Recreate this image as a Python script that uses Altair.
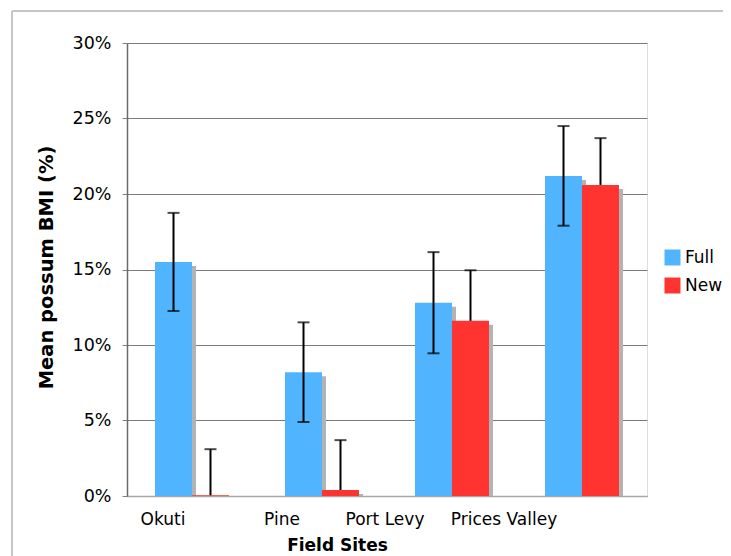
import altair as alt
import pandas as pd

sites = ["Okuti", "Pine", "Port Levy", "Prices Valley"]
series = ["Full", "New"]
full_vals = [15.5, 8.2, 12.8, 21.2]
full_err = [3.25, 3.3, 3.35, 3.3]
new_vals = [0.05, 0.4, 11.6, 20.6]
new_err = [3.05, 3.3, 3.35, 3.1]
colors = ["#50b4fe", "#ff3430"]

rows = []
for i, s in enumerate(sites):
    rows.append({"site": s, "series": "Full", "value": full_vals[i] / 100,
                 "lo": (full_vals[i] - full_err[i]) / 100,
                 "hi": (full_vals[i] + full_err[i]) / 100, "lower": True})
    rows.append({"site": s, "series": "New", "value": new_vals[i] / 100,
                 "lo": new_vals[i] / 100,
                 "hi": (new_vals[i] + new_err[i]) / 100, "lower": False})
df = pd.DataFrame(rows)

FONT = "DejaVu Sans"

label_off = ("datum.value == 'Okuti' ? -29 : datum.value == 'Pine' ? -40 : "
             "datum.value == 'Port Levy' ? -67 : -78")

x_enc = alt.X("site:N", sort=sites,
              scale=alt.Scale(paddingInner=0.431, paddingOuter=0.2155),
              axis=alt.Axis(title="Field Sites", labelAngle=0, ticks=False,
                            labelFont=FONT, labelFontSize=17, labelColor="#000",
                            labelPadding=15, labelBaseline="top",
                            labelOffset=alt.ExprRef(expr=label_off),
                            domainColor="#a8a8a8", domainWidth=1.5,
                            titleFont=FONT, titleFontSize=17, titleFontWeight="bold",
                            titleColor="#000", titleX=210, titleY=49,
                            titleBaseline="middle", titleAlign="center"))
xo = alt.XOffset("series:N", sort=series,
                 scale=alt.Scale(domain=series, paddingInner=0, paddingOuter=0))
xo_shadow = alt.XOffset("series:N", sort=series,
                        scale=alt.Scale(domain=series, paddingInner=0, paddingOuter=0,
                                        range=[4, 78]))
y_scale = alt.Scale(domain=[0, 0.30], nice=False)
y_axis = alt.Axis(title="Mean possum BMI (%)", format=".0%", values=[0, 0.05, 0.1, 0.15, 0.2, 0.25, 0.3],
                  labelFont=FONT, labelFontSize=17.5, labelColor="#000", labelPadding=11,
                  tickSize=5, tickColor="#808080", domainColor="#6a6a6a", domainWidth=1.5,
                  grid=True, gridColor="#7a7a7a", gridWidth=1.2,
                  titleFont=FONT, titleFontSize=19.5, titleFontWeight="bold", titleColor="#000",
                  titleAngle=-90, titleX=-81, titleY=224, titleAlign="center",
                  titleBaseline="middle")

base = alt.Chart(df)

shadow = base.mark_bar(color="#b3b3b3", yOffset=4, clip=True).encode(
    x=x_enc, xOffset=xo_shadow, y=alt.Y("value:Q", scale=y_scale, axis=y_axis))

bars = base.mark_bar().encode(
    x=alt.X("site:N", sort=sites), xOffset=xo,
    y=alt.Y("value:Q", scale=y_scale),
    color=alt.Color("series:N", sort=series,
                    scale=alt.Scale(domain=series, range=colors),
                    legend=alt.Legend(title=None, orient="none", legendX=537, legendY=206,
                                      symbolType="square", symbolSize=256, symbolStrokeWidth=0,
                                      labelFont=FONT, labelFontSize=17, labelColor="#000",
                                      rowPadding=10, labelOffset=4)))

err_line = base.mark_rule(color="#000", strokeWidth=2, clip=True).encode(
    x=alt.X("site:N", sort=sites), xOffset=xo,
    y=alt.Y("lo:Q", scale=y_scale), y2="hi:Q")

cap_top = base.mark_tick(color="#000", size=12, thickness=2).encode(
    x=alt.X("site:N", sort=sites), xOffset=xo, y=alt.Y("hi:Q", scale=y_scale))

cap_bot = base.transform_filter("datum.lower").mark_tick(color="#000", size=12, thickness=2).encode(
    x=alt.X("site:N", sort=sites), xOffset=xo, y=alt.Y("lo:Q", scale=y_scale))

frame_data = alt.Data(values=[{"k": 1}])
frame_top = alt.Chart(frame_data).mark_rule(color="#c6c6c6", strokeWidth=2).encode(
    x=alt.value(-115), x2=alt.value(700), y=alt.value(-32))
frame_left = alt.Chart(frame_data).mark_rule(color="#c6c6c6", strokeWidth=2).encode(
    x=alt.value(-115), y=alt.value(-32), y2=alt.value(600))

chart = alt.layer(shadow, bars, err_line, cap_top, cap_bot, frame_top, frame_left).resolve_scale(
    xOffset="independent"
).properties(
    width=520, height=453,
    padding={"left": 119, "top": 35, "right": 76, "bottom": 60},
    autosize=alt.AutoSizeParams(type="none"),
).configure_view(
    fill="#d6d6d6", stroke="#8a8a8a", strokeWidth=2
).configure(background="white")

chart.save("out.html", embed_options={"renderer": "svg", "actions": False})
